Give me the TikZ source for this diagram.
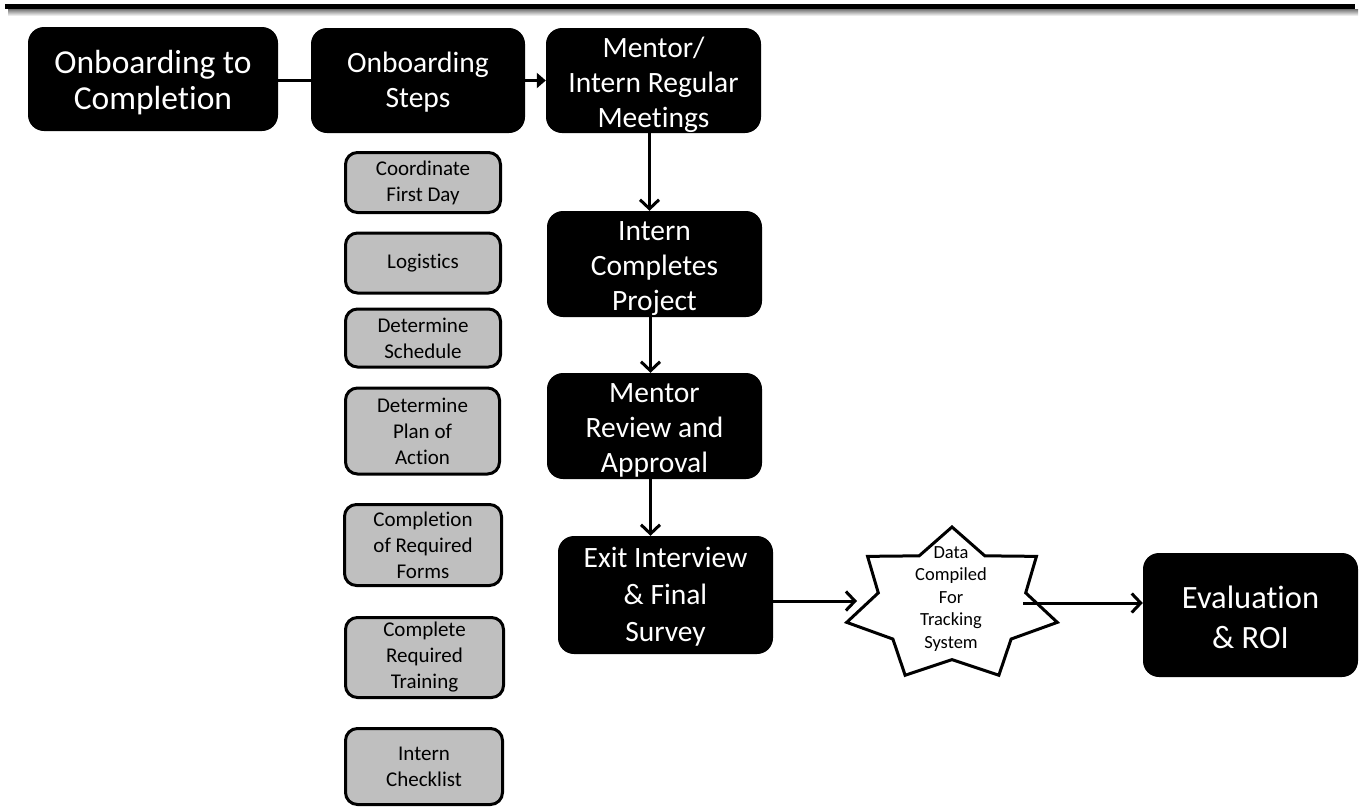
\documentclass[tikz,border=0pt]{standalone}
\usepackage{fontspec}
\setmainfont{Carlito}[Ligatures=NoCommon]
\usetikzlibrary{arrows.meta,calc}
\definecolor{stepgray}{RGB}{191,191,191}
\begin{document}
\begin{tikzpicture}[x=1pt,y=-1pt,
  blackbox/.style={draw=none, fill=black, rounded corners=16pt, inner sep=0pt},
  boxtext/.style={text=white, align=center, inner sep=0pt, font=\fontsize{29.5}{35}\selectfont},
  graybox/.style={draw=black, line width=3pt, fill=stepgray, rounded corners=12pt,
    align=center, inner sep=0pt, font=\fontsize{21}{26}\selectfont},
  link/.style={line width=3pt},
  flow/.style={line width=3pt, -{Straight Barb[length=9pt,width=19pt]}},
  push/.style={line width=3pt, -{Triangle[length=9pt,width=15pt]}},
]
\useasboundingbox (0,0) rectangle (1366,807);

% header rule with its soft shadow
\fill[top color=black!55, bottom color=white] (8,9) rectangle (1358,16);
\draw[line width=5pt] (5,6.5) -- (1355,6.5);

% main flow: boxes
\node[blackbox, minimum width=250pt, minimum height=104pt] (onb) at (153,79) {};
\node[blackbox, minimum width=214pt, minimum height=105pt] (steps) at (418,80.5) {};
\node[blackbox, minimum width=215pt, minimum height=105pt] (meet) at (653.5,80.5) {};
\node[blackbox, minimum width=215pt, minimum height=106pt] (proj) at (654.5,264) {};
\node[blackbox, minimum width=215pt, minimum height=106pt] (rev) at (654.5,426) {};
\node[blackbox, minimum width=215pt, minimum height=118pt] (exit) at (665.5,595) {};
\node[blackbox, minimum width=215pt, minimum height=124pt] (eval) at (1250.5,615) {};

% main flow: captions
\node[boxtext, font=\fontsize{33.5}{36}\selectfont] (onb-t) at ([yshift=-4pt]onb.center) {Onboarding to\\Completion};
\node[boxtext] (steps-t) at ([yshift=-2pt]steps.center) {Onboarding\\Steps};
\node[boxtext] (meet-t) at ([yshift=-4pt]meet.center) {Mentor/\\Intern Regular\\Meetings};
\node[boxtext] (proj-t) at ([yshift=-5pt]proj.center) {Intern\\Completes\\Project};
\node[boxtext] (rev-t) at ([yshift=-4pt]rev.center) {Mentor\\Review and\\Approval};
\node[boxtext, font=\fontsize{29.5}{37}\selectfont] (exit-t) at ([yshift=-2pt]exit.center) {Exit Interview\\\& Final\\Survey};
\node[boxtext, font=\fontsize{32.5}{40}\selectfont] (eval-t) at ([yshift=-2pt]eval.center) {Evaluation\\\& ROI};

% onboarding checklist
\node[graybox, minimum width=155pt, minimum height=60pt] (first) at (423,182.5) {Coordinate\\First Day};
\node[graybox, minimum width=155pt, minimum height=60pt] (logi) at (423,263) {Logistics};
\node[graybox, minimum width=155pt, minimum height=58pt] (sched) at (423,338) {Determine\\Schedule};
\node[graybox, minimum width=154pt, minimum height=86pt] (plan) at (422.5,431) {Determine\\Plan of\\Action};
\node[graybox, minimum width=157pt, minimum height=81pt] (forms) at (423,545) {Completion\\of Required\\Forms};
\node[graybox, minimum width=158pt, minimum height=80pt] (train) at (424.5,657.5) {Complete\\Required\\Training};
\node[graybox, minimum width=157pt, minimum height=76pt] (check) at (424,766.5) {Intern\\Checklist};

% seven-point star for the tracking step
\coordinate (sc) at (952,605);
\foreach \k in {0,...,13}{
  \pgfmathsetmacro\ang{90-\k*25.7142857}
  \pgfmathsetmacro\rx{ifthenelse(isodd(\k),75.6,108)}
  \pgfmathsetmacro\ry{ifthenelse(isodd(\k),54.6,78)}
  \coordinate (p\k) at ($(sc)+(\ang:\rx pt and \ry pt)$);
}
\draw[line width=3pt, fill=white, line join=miter]
  (p0) -- (p1) -- (p2) -- (p3) -- (p4) -- (p5) -- (p6) -- (p7)
  -- (p8) -- (p9) -- (p10) -- (p11) -- (p12) -- (p13) -- cycle;
\node[align=center, inner sep=0pt, font=\fontsize{18.5}{22.5}\selectfont] (data) at (951,599)
  {Data\\Compiled\\For\\Tracking\\System};
\coordinate (sin) at (857,601);
\coordinate (sout) at (1023,603);

% connectors
\draw[link] (onb.east |- steps.west) -- (steps.west);
\draw[push] (steps.east) -- (meet.west);
\draw[flow] ([xshift=-4pt]meet.south) -- ([xshift=-4pt]meet.south |- proj.north);
\draw[flow] ([xshift=-4pt]proj.south) -- ([xshift=-4pt]proj.south |- rev.north);
\draw[flow] ([xshift=-4pt]rev.south) -- ([xshift=-4pt]rev.south |- exit.north);
\draw[flow] (exit.east |- sin) -- (sin);
\draw[flow] (sout) -- (eval.west |- sout);
\end{tikzpicture}
\end{document}
